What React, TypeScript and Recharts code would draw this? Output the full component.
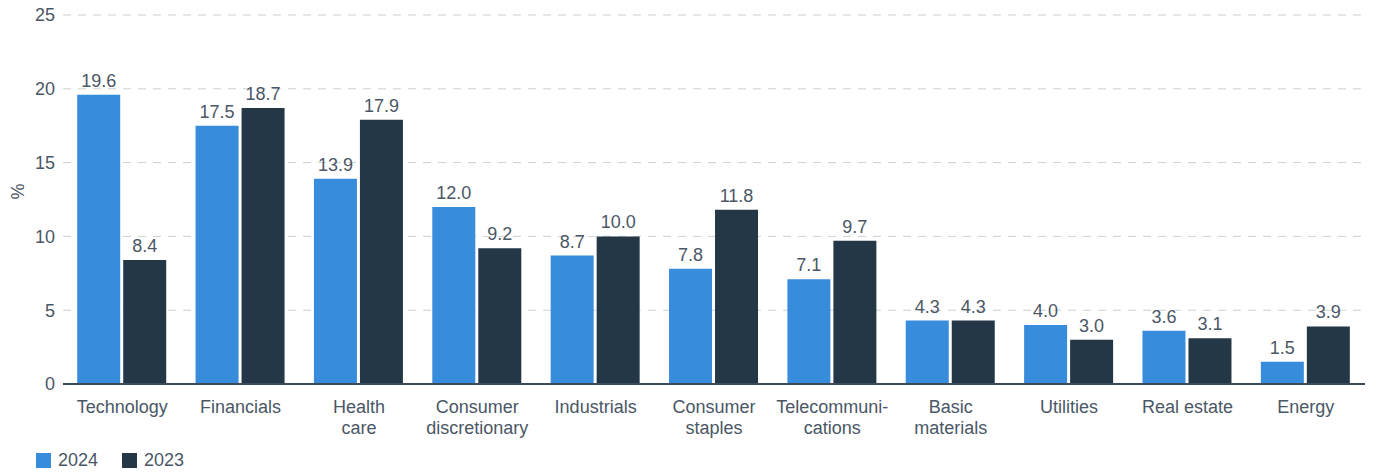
import React from "react";
import {
  Bar,
  BarChart,
  CartesianGrid,
  LabelList,
  Legend,
  XAxis,
  YAxis,
} from "recharts";

const sectors = [
  "Technology",
  "Financials",
  "Health\ncare",
  "Consumer\ndiscretionary",
  "Industrials",
  "Consumer\nstaples",
  "Telecommuni-\ncations",
  "Basic\nmaterials",
  "Utilities",
  "Real estate",
  "Energy",
];
const values2024 = [19.6, 17.5, 13.9, 12.0, 8.7, 7.8, 7.1, 4.3, 4.0, 3.6, 1.5];
const values2023 = [8.4, 18.7, 17.9, 9.2, 10.0, 11.8, 9.7, 4.3, 3.0, 3.1, 3.9];
const yTicks = [0, 5, 10, 15, 20, 25];

const BLUE = "#388cdc";
const NAVY = "#243746";
const TEXT = "#4a5766";
const FONT = "'Liberation Sans', Arial, sans-serif";
const FS = 18;

const data = sectors.map((s, i) => ({
  sector: s,
  y2024: values2024[i],
  y2023: values2023[i],
}));

function SectorTick(props: any) {
  const { x, y, payload } = props;
  const lines = String(payload.value).split("\n");
  return (
    <text x={x} y={y + 21} textAnchor="middle" fill={TEXT} fontSize={FS} fontFamily={FONT}>
      {lines.map((l, i) => (
        <tspan key={i} x={x} dy={i === 0 ? 0 : 21}>
          {l}
        </tspan>
      ))}
    </text>
  );
}

function LegendBox() {
  const items = [
    { name: "2024", color: BLUE },
    { name: "2023", color: NAVY },
  ];
  return (
    <div style={{ display: "flex", height: 30, alignItems: "center", paddingLeft: 36, fontFamily: FONT, fontSize: FS, color: TEXT }}>
      {items.map((it) => (
        <div key={it.name} style={{ display: "flex", alignItems: "center", marginRight: 24 }}>
          <span style={{ width: 15, height: 15, background: it.color, display: "inline-block", marginRight: 7 }} />
          <span>{it.name}</span>
        </div>
      ))}
    </div>
  );
}

export default function App() {
  const fmt = (v: any) => Number(v).toFixed(1);
  return (
    <div style={{ position: "absolute", left: 0, top: 0 }}>
      <BarChart
        width={1375}
        height={475}
        data={data}
        margin={{ top: 15, right: 10, left: 0, bottom: 0 }}
        barCategoryGap="12%"
        barGap={3}
      >
        <CartesianGrid vertical={false} stroke="#cbd0d4" strokeDasharray="8 7" />
        <XAxis
          dataKey="sector"
          interval={0}
          tickLine={false}
          axisLine={{ stroke: "#3d4b58", strokeWidth: 2 }}
          tick={<SectorTick />}
          height={61}
        />
        <YAxis
          domain={[0, 25]}
          ticks={yTicks}
          width={63}
          axisLine={false}
          tickLine={false}
          tick={{ fill: TEXT, fontSize: FS, fontFamily: FONT }}
          label={{ value: "%", angle: -90, position: "insideLeft", offset: 18, fill: TEXT, fontSize: FS, fontFamily: FONT }}
        />
        <Legend verticalAlign="bottom" align="left" content={<LegendBox />} />
        <Bar dataKey="y2024" name="2024" fill={BLUE} isAnimationActive={false}>
          <LabelList dataKey="y2024" position="top" offset={8} formatter={fmt} fill={TEXT} fontSize={FS} fontFamily={FONT} />
        </Bar>
        <Bar dataKey="y2023" name="2023" fill={NAVY} isAnimationActive={false}>
          <LabelList dataKey="y2023" position="top" offset={8} formatter={fmt} fill={TEXT} fontSize={FS} fontFamily={FONT} />
        </Bar>
      </BarChart>
    </div>
  );
}
